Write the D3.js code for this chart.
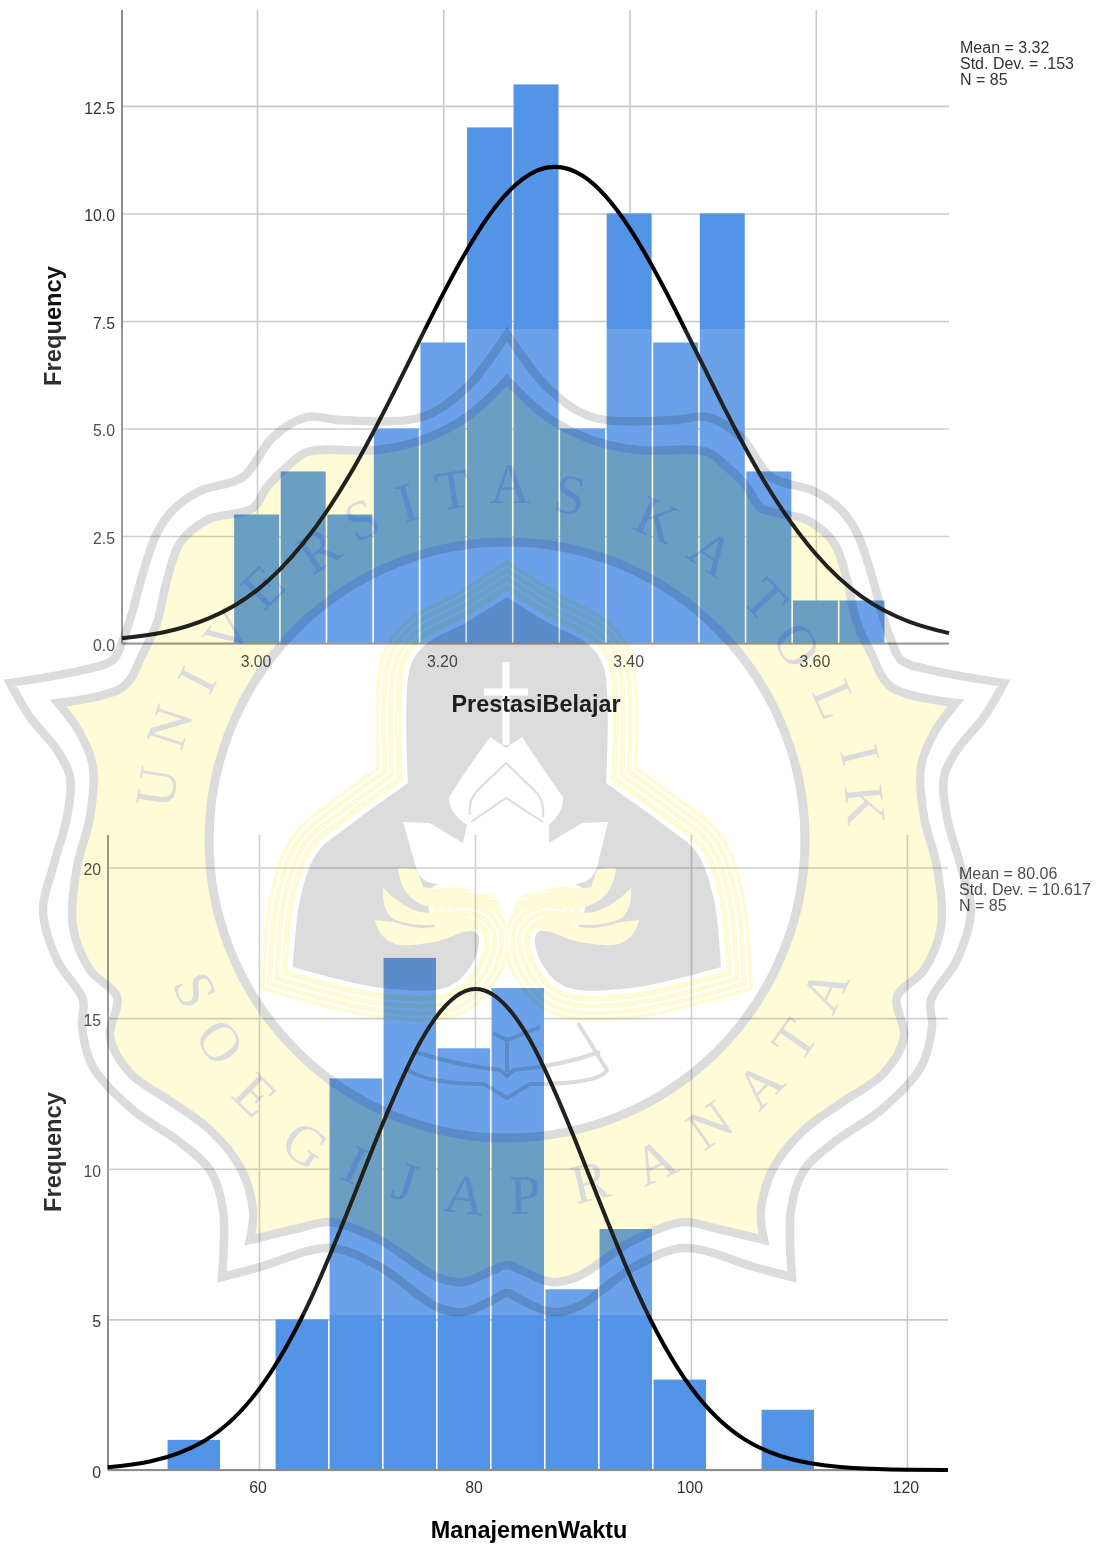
<!DOCTYPE html>
<html>
<head>
<meta charset="utf-8">
<title>Histograms</title>
<script src="https://cdn.jsdelivr.net/npm/d3@7"></script>
<style>
body { margin: 0; background: #fff; }
svg { display: block; font-family: "Liberation Sans", Arial, sans-serif; }
.domain { display: none; }
.tick line { stroke: #c9c9c9; stroke-width: 1.6; }
.tick text { fill: #333; font-size: 15.8px; }
</style>
</head>
<body>
<svg id="chart" width="1102" height="1546"></svg>
<script>
// first histogram
var edges1 = [2.975, 3.025, 3.075, 3.125, 3.175, 3.225, 3.275, 3.325, 3.375, 3.425, 3.475, 3.525, 3.575, 3.625, 3.675]
var counts1 = [3, 4, 3, 5, 7, 12, 13, 5, 10, 7, 10, 4, 1, 1]
var curveX1 = [2.855, 2.9, 2.95, 3.0, 3.05, 3.1, 3.15, 3.2, 3.25, 3.3, 3.35, 3.4, 3.45, 3.5, 3.55, 3.6, 3.65, 3.7, 3.743]
var curveY1 = [0.12, 0.26, 0.6, 1.24, 2.34, 3.94, 5.98, 8.14, 9.98, 10.99, 10.87, 9.66, 7.72, 5.55, 3.58, 2.08, 1.08, 0.51, 0.24]
var xTicks1 = [3.0, 3.2, 3.4, 3.6]
var yTicks1 = [0, 2.5, 5, 7.5, 10, 12.5]
var stats1 = ['Mean = 3.32', 'Std. Dev. = .153', 'N = 85']

// second histogram
var edges2 = [51.5, 56.5, 61.5, 66.5, 71.5, 76.5, 81.5, 86.5, 91.5, 96.5, 101.5, 106.5, 111.5]
var counts2 = [1, 0, 5, 13, 17, 14, 16, 6, 8, 3, 0, 2]
var curveX2 = [46, 50, 55, 60, 65, 70, 75, 80, 85, 90, 95, 100, 105, 110, 115, 120, 123.8]
var curveY2 = [0.09, 0.29, 0.98, 2.68, 5.84, 10.2, 14.25, 15.97, 14.33, 10.3, 5.93, 2.74, 1.01, 0.3, 0.07, 0.01, 0]
var xTicks2 = [60, 80, 100, 120]
var yTicks2 = [0, 5, 10, 15, 20]
var stats2 = ['Mean = 80.06', 'Std. Dev. = 10.617', 'N = 85']

var svg = d3.select('#chart')
svg.append('rect').attr('width', 1102).attr('height', 1546).attr('fill', '#fff')

function buildHistogram (opt) {
    var x = d3.scaleLinear().domain(opt.xDomain).range([opt.left, opt.right])
    var y = d3.scaleLinear().domain(opt.yDomain).range([opt.bottom, opt.top])
    var g = svg.append('g')

    g.append('g')
        .attr('transform', 'translate(0,' + opt.bottom + ')')
        .call(d3.axisBottom(x).tickValues(opt.xTicks).tickFormat(opt.xFormat)
            .tickSizeInner(opt.top - opt.bottom).tickSizeOuter(0).tickPadding(12))
        .selectAll('text').attr('dx', -1.5)
    g.append('g')
        .attr('transform', 'translate(' + opt.left + ',0)')
        .call(d3.axisLeft(y).tickValues(opt.yTicks).tickFormat(opt.yFormat)
            .tickSizeInner(opt.left - opt.right).tickSizeOuter(0).tickPadding(7))
        .selectAll('text').attr('dy', '.47em')

    g.selectAll('.bar')
        .data(opt.counts)
        .enter()
        .append('rect')
        .attr('class', 'bar')
        .attr('x', function(d, i){
            return x(opt.edges[i]) + 0.4
        })
        .attr('width', function(d, i){
            return x(opt.edges[i + 1]) - x(opt.edges[i]) - 1.6
        })
        .attr('y', function(d){
            return y(d)
        })
        .attr('height', function(d){
            return y(0) - y(d)
        })
        .attr('fill', '#5494E6')

    // axis lines sit on top of the bars
    g.append('line').attr('x1', opt.left).attr('x2', opt.right)
        .attr('y1', opt.bottom).attr('y2', opt.bottom)
        .attr('stroke', '#8c8c8c').attr('stroke-width', 2)
    g.append('line').attr('x1', opt.left).attr('x2', opt.left)
        .attr('y1', opt.top).attr('y2', opt.bottom)
        .attr('stroke', '#8c8c8c').attr('stroke-width', 2)

    var line = d3.line()
        .x(function(d){ return x(d[0]) })
        .y(function(d){ return y(d[1]) })
        .curve(d3.curveNatural)
    g.append('path')
        .datum(d3.zip(opt.curveX, opt.curveY))
        .attr('d', line)
        .attr('fill', 'none')
        .attr('stroke', '#000')
        .attr('stroke-width', 4)

    g.selectAll('.stat')
        .data(opt.stats)
        .enter()
        .append('text')
        .attr('class', 'stat')
        .attr('x', opt.statX)
        .attr('y', function(d, i){
            return opt.statY + i * 16
        })
        .attr('font-size', 16)
        .attr('fill', '#333')
        .text(function(d){ return d })

    g.append('text')
        .attr('x', opt.xTitleX).attr('y', opt.xTitleY)
        .attr('text-anchor', 'middle')
        .attr('font-size', 23.4).attr('font-weight', 'bold').attr('fill', '#000')
        .text(opt.xTitle)
    g.append('text')
        .attr('transform', 'translate(61,' + opt.yTitleY + ') rotate(-90)')
        .attr('text-anchor', 'middle')
        .attr('font-size', 23.7).attr('font-weight', 'bold').attr('fill', '#111')
        .text('Frequency')
}

buildHistogram({
    edges: edges1, counts: counts1, curveX: curveX1, curveY: curveY1,
    xTicks: xTicks1, yTicks: yTicks1, stats: stats1,
    xDomain: [2.855, 3.743], yDomain: [0, 14.73],
    left: 122, right: 949, top: 10, bottom: 643.5,
    xFormat: d3.format('.2f'), yFormat: d3.format('.1f'),
    statX: 960, statY: 53, xTitle: 'PrestasiBelajar', xTitleX: 536, xTitleY: 712, yTitleY: 326
})

buildHistogram({
    edges: edges2, counts: counts2, curveX: curveX2, curveY: curveY2,
    xTicks: xTicks2, yTicks: yTicks2, stats: stats2,
    xDomain: [46.02, 123.8], yDomain: [0, 21.08],
    left: 108, right: 948, top: 835, bottom: 1470,
    xFormat: d3.format('d'), yFormat: d3.format('d'),
    statX: 959, statY: 879, xTitle: 'ManajemenWaktu', xTitleX: 529, xTitleY: 1538, yTitleY: 1152
})

// ---- watermark logo pasted over the scan ----
var mid = 507
var grey = '#dcdcdc'
var cream = '#fffbd6'

// half outline + indices of the sharp corners -> whole mirrored path
function sharpRing (half, sharp) {
    var other = half.slice(0, -1).reverse().map(function(p){ return [2 * mid - p[0], p[1]] })
    var full = half.concat(other)
    var marks = sharp.concat(sharp.filter(function(i){ return i > 0 }).map(function(i){ return full.length - 1 - i }))
    marks.push(full.length - 1)
    marks.sort(d3.ascending)
    var seg = d3.line().curve(d3.curveCatmullRom.alpha(0.5))
    var d = ''
    for (var i = 0; i < marks.length - 1; i++) {
        var piece = seg(full.slice(marks[i], marks[i + 1] + 1))
        d += i === 0 ? piece : piece.replace(/^M/, 'L')
    }
    return d + 'Z'
}

var outerHalf = [[507,334],[467,387],[422,417],[340,420],[307,417],[273,437],[243,477],[200,491],[173,510],[157,533],
    [143,573],[132,613],[123,640],[113,660],[83,670],[10,683],[30,717],[57,750],[70,777],[67,817],[53,867],[43,910],
    [57,960],[83,1000],[82,1027],[93,1067],[133,1110],[177,1140],[210,1170],[223,1210],[222,1277],[260,1267],
    [330,1248],[380,1267],[437,1307],[463,1312],[493,1300],[507,1293]]
var innerHalf = [[507,380],[467,417],[422,440],[377,450],[307,452],[287,467],[267,487],[253,508],[207,520],[180,543],
    [167,580],[157,623],[143,653],[123,687],[58,703],[80,733],[93,767],[90,817],[77,867],[73,927],[90,970],[117,997],
    [110,1037],[130,1073],[173,1103],[210,1130],[240,1167],[253,1210],[250,1240],[300,1228],[330,1222],[380,1240],
    [437,1277],[463,1282],[493,1270],[507,1265]]
var archHalf = [[507,597],[467,622],[425,645],[410,668],[408,783],[350,825],[317,853],[300,900],[293,967],
    [383,988],[450,986],[475,958],[478,935],[465,928],[440,932],[430,890],[507,880]]

// white veil: the scan is lighter inside the pasted picture
svg.append('rect').attr('x', 0).attr('y', 329).attr('width', 1102).attr('height', 986)
    .attr('fill', '#fff').attr('fill-opacity', 0.13)

var logo = svg.append('g').style('mix-blend-mode', 'multiply')

logo.append('path').attr('d', sharpRing(outerHalf, [0, 15, 30]))
    .attr('fill', '#fff').attr('stroke', grey).attr('stroke-width', 8.5).attr('stroke-miterlimit', 8)
logo.append('path').attr('d', sharpRing(innerHalf, [0, 14, 28]))
    .attr('fill', cream).attr('stroke', grey).attr('stroke-width', 8.5).attr('stroke-miterlimit', 8)
logo.append('circle').attr('cx', mid).attr('cy', 840).attr('r', 298)
    .attr('fill', '#fff').attr('stroke', grey).attr('stroke-width', 9)

var archPath = sharpRing(archHalf, [0, 4, 8])
var stripes = [[62, cream], [54, '#fff'], [50, cream], [40, '#fff'], [36, cream], [26, '#fff'], [22, cream], [10, '#fff']]
stripes.forEach(function(s){
    logo.append('path').attr('d', archPath).attr('fill', 'none')
        .attr('stroke', s[1]).attr('stroke-width', s[0])
        .attr('stroke-linejoin', 'miter').attr('stroke-miterlimit', 3)
})
logo.append('path').attr('d', archPath).attr('fill', grey)

// scroll petals
var petals = [
    'M398,868 C402,868 412,868 417,870 L423,887 C440,890 455,890 467,892 C480,895 490,900 498,907 L497,913 C485,908 478,907 467,907 C450,908 440,908 430,907 C412,903 400,890 398,868Z',
    'M383,888 C388,893 392,897 397,900 C405,906 412,910 420,912 C435,914 450,912 467,910 L480,914 L467,917 C455,921 440,925 427,925 C410,925 400,922 392,918 C385,912 382,900 383,888Z',
    'M375,920 C380,921 387,921 393,922 C405,925 413,928 423,928 C437,928 450,924 463,922 L480,926 L477,930 L463,932 C450,937 440,942 427,943 C415,945 408,946 400,945 C388,943 378,935 375,920Z'
]
petals.forEach(function(p){
    logo.append('path').attr('d', p).attr('fill', cream)
    logo.append('path').attr('d', p).attr('fill', cream)
        .attr('transform', 'translate(' + (2 * mid) + ',0) scale(-1,1)')
})

// lotus and flame
logo.append('path').attr('fill', '#fff')
    .attr('d', 'M403,822 L430,823 L463,843 L467,825 Q448,812 449,797 Q465,772 490,737 L506,748 L522,737 Q545,772 563,797 Q564,812 549,825 L549,843 L582,823 L608,822 L597,867 Q592,883 575,884 L540,890 Q520,893 517,900 L507,925 L497,900 Q494,893 470,890 L437,884 Q420,883 416,867Z')
logo.append('path').attr('fill', 'none').attr('stroke', grey).attr('stroke-width', 2)
    .attr('d', 'M470,815 Q468,800 478,790 L506,763 L534,790 Q545,800 543,817 M471,822 L506,798 L543,822')

// cross
logo.append('path').attr('fill', 'none').attr('stroke', '#fff').attr('stroke-width', 7)
    .attr('d', 'M506,662 L506,745 M484,692 L528,692')

// book under the flower
logo.append('path').attr('fill', 'none').attr('stroke', grey).attr('stroke-width', 4)
    .attr('d', 'M578,1023 L607,1070 Q600,1084 530,1084 L507,1098 L484,1084 Q425,1084 405,1068 M507,1037 L507,1072 M493,1033 L507,1040 L540,1027 M415,1052 Q460,1066 500,1070 L507,1076 L514,1070 Q560,1066 600,1052')

// lettering round the ring
var topLetters = [['U',157,787],['N',170,727],['I',197,680],['V',228,632],['E',263,587],['R',318,550],['S',362,520],['I',407,503],
    ['T',453,490],['A',510,485],['S',570,495],['K',657,520],['A',712,553],['T',765,600],['O',797,645],['L',835,700],['I',860,755],['K',865,805]]
var bottomLetters = [['S',195,990],['O',220,1042],['E',255,1095],['G',305,1145],['I',355,1165],['J',405,1182],['A',465,1195],
    ['P',525,1195],['R',590,1182],['A',655,1162],['N',710,1125],['A',760,1085],['T',795,1040],['A',825,990]]

function putLetters (letters, isTop) {
    logo.selectAll(null)
        .data(letters)
        .enter()
        .append('text')
        .attr('transform', function(d){
            var dx = d[1] - 510, dy = d[2] - 840
            var a = isTop ? Math.atan2(dx, -dy) : Math.atan2(-dx, dy)
            return 'translate(' + d[1] + ',' + d[2] + ') rotate(' + a * 180 / Math.PI + ')'
        })
        .attr('text-anchor', 'middle')
        .attr('dy', '.33em')
        .attr('font-family', '"Liberation Serif", serif')
        .attr('font-size', 56)
        .attr('fill', '#dcdcdc')
        .text(function(d){ return d[0] })
}
putLetters(topLetters, true)
putLetters(bottomLetters, false)
</script>
</body>
</html>
